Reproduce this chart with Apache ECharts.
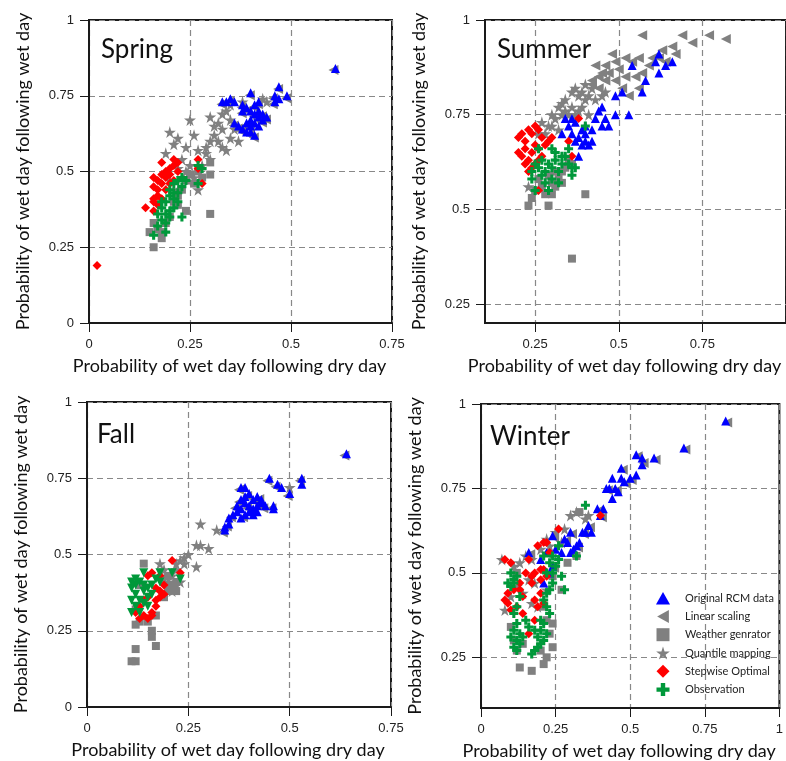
<!DOCTYPE html>
<html>
<head>
<meta charset="utf-8">
<script src="https://cdn.jsdelivr.net/npm/echarts@6/dist/echarts.min.js"></script>
<style>
  html, body { margin: 0; padding: 0; background: #fff; }
  #chart { width: 786px; height: 761px; }
</style>
</head>
<body>
<div id="chart"></div>
<script>
// series names (legend order)
const seriesNames = ['Original RCM data', 'Linear scaling', 'Weather genrator', 'Quantile mapping', 'Stepwise Optimal', 'Observation'];
const panelTitles = ['Spring', 'Summer', 'Fall', 'Winter'];
const xTicksShort = [0, 0.25, 0.5, 0.75];
const xTicksLong = [0.25, 0.5, 0.75, 1];
const xLabelsSummer = [0.25, 0.5, 0.75];
const xTicksFull = [0, 0.25, 0.5, 0.75, 1];
const yTicksFull = [0, 0.25, 0.5, 0.75, 1];
const yTicksUpper = [0.25, 0.5, 0.75, 1];

// ---- Spring ----
const springRcm = [[0.61,0.84],[0.47,0.78],[0.49,0.75],[0.46,0.75],[0.46,0.73],[0.47,0.74],[0.40,0.76],[0.33,0.73],[0.34,0.73],[0.35,0.74],[0.36,0.73],[0.38,0.72],[0.39,0.71],[0.40,0.70],[0.41,0.72],[0.42,0.73],[0.41,0.69],[0.42,0.68],[0.43,0.67],[0.40,0.67],[0.39,0.66],[0.38,0.64],[0.39,0.63],[0.40,0.63],[0.41,0.62],[0.42,0.65],[0.43,0.69],[0.37,0.65],[0.36,0.66],[0.41,0.66],[0.40,0.65],[0.38,0.70],[0.42,0.70],[0.44,0.68]];
const springLinear = [[0.605,0.835],[0.468,0.772],[0.488,0.742],[0.455,0.742],[0.455,0.722],[0.398,0.752],[0.328,0.722],[0.348,0.732],[0.378,0.712],[0.392,0.702],[0.408,0.712],[0.418,0.722],[0.408,0.682],[0.418,0.672],[0.428,0.662],[0.388,0.652],[0.378,0.632],[0.398,0.622],[0.408,0.612],[0.428,0.682],[0.368,0.642],[0.358,0.652],[0.398,0.642],[0.438,0.672],[0.378,0.692]];
const springWeather = [[0.16,0.25],[0.15,0.30],[0.18,0.28],[0.30,0.36],[0.16,0.33],[0.17,0.31],[0.24,0.37],[0.22,0.39],[0.23,0.44],[0.26,0.46],[0.28,0.48],[0.30,0.49],[0.30,0.53],[0.20,0.35],[0.19,0.33],[0.21,0.40],[0.22,0.42],[0.25,0.49],[0.27,0.50],[0.18,0.30],[0.24,0.47]];
const springQuantile = [[0.25,0.67],[0.20,0.63],[0.22,0.61],[0.21,0.59],[0.19,0.56],[0.24,0.58],[0.26,0.62],[0.27,0.57],[0.29,0.56],[0.30,0.60],[0.31,0.65],[0.30,0.68],[0.32,0.66],[0.33,0.69],[0.34,0.70],[0.35,0.67],[0.33,0.64],[0.32,0.60],[0.33,0.58],[0.34,0.57],[0.35,0.61],[0.36,0.64],[0.37,0.60],[0.30,0.54],[0.28,0.52],[0.25,0.52],[0.23,0.54],[0.22,0.51],[0.27,0.44],[0.26,0.48],[0.24,0.50],[0.43,0.74],[0.44,0.73],[0.38,0.73],[0.35,0.72],[0.31,0.62],[0.29,0.58],[0.22,0.44],[0.20,0.47],[0.23,0.48]];
const springStepwise = [[0.02,0.19],[0.14,0.38],[0.16,0.37],[0.16,0.40],[0.17,0.42],[0.16,0.45],[0.16,0.48],[0.17,0.47],[0.18,0.46],[0.18,0.49],[0.18,0.53],[0.19,0.50],[0.19,0.48],[0.20,0.51],[0.20,0.49],[0.21,0.52],[0.21,0.54],[0.22,0.53],[0.22,0.50],[0.17,0.44],[0.18,0.41],[0.19,0.44],[0.27,0.54],[0.27,0.51],[0.28,0.46],[0.16,0.41],[0.17,0.39],[0.20,0.46],[0.21,0.47]];
const springObs = [[0.16,0.29],[0.19,0.30],[0.17,0.32],[0.18,0.34],[0.19,0.36],[0.20,0.37],[0.18,0.38],[0.19,0.40],[0.20,0.42],[0.21,0.41],[0.22,0.43],[0.20,0.44],[0.21,0.46],[0.23,0.45],[0.22,0.47],[0.23,0.48],[0.24,0.47],[0.23,0.35],[0.19,0.33],[0.21,0.38],[0.22,0.40],[0.27,0.52],[0.28,0.51],[0.27,0.46],[0.20,0.35],[0.17,0.36],[0.21,0.43],[0.18,0.40]];

// ---- Summer ----
const summerRcm = [[0.62,0.91],[0.61,0.89],[0.64,0.88],[0.66,0.89],[0.62,0.86],[0.54,0.88],[0.58,0.84],[0.57,0.81],[0.51,0.81],[0.49,0.80],[0.49,0.75],[0.53,0.75],[0.45,0.77],[0.44,0.76],[0.46,0.74],[0.43,0.74],[0.45,0.72],[0.47,0.72],[0.40,0.72],[0.39,0.71],[0.40,0.70],[0.42,0.71],[0.38,0.69],[0.37,0.68],[0.39,0.67],[0.40,0.68],[0.42,0.68],[0.36,0.74],[0.37,0.73],[0.34,0.74],[0.35,0.72],[0.41,0.67],[0.38,0.64],[0.33,0.70],[0.36,0.70]];
const summerLinear = [[0.57,0.96],[0.69,0.96],[0.77,0.96],[0.82,0.95],[0.72,0.94],[0.66,0.93],[0.63,0.92],[0.62,0.90],[0.60,0.90],[0.56,0.90],[0.54,0.89],[0.52,0.90],[0.49,0.89],[0.48,0.91],[0.50,0.87],[0.47,0.86],[0.45,0.86],[0.44,0.85],[0.46,0.84],[0.49,0.84],[0.51,0.82],[0.53,0.80],[0.56,0.82],[0.57,0.86],[0.59,0.88],[0.64,0.89],[0.67,0.91],[0.42,0.84],[0.43,0.88],[0.46,0.88],[0.52,0.85],[0.55,0.85],[0.42,0.83],[0.44,0.82]];
const summerWeather = [[0.23,0.51],[0.29,0.51],[0.36,0.37],[0.40,0.54],[0.24,0.53],[0.25,0.55],[0.27,0.56],[0.28,0.54],[0.30,0.54],[0.30,0.57],[0.31,0.56],[0.32,0.58],[0.33,0.60],[0.34,0.61],[0.35,0.63],[0.36,0.62],[0.33,0.57],[0.26,0.58],[0.29,0.59],[0.31,0.60]];
const summerQuantile = [[0.27,0.73],[0.29,0.72],[0.30,0.75],[0.32,0.77],[0.33,0.78],[0.34,0.79],[0.36,0.81],[0.37,0.82],[0.38,0.80],[0.40,0.79],[0.39,0.77],[0.41,0.80],[0.42,0.82],[0.40,0.83],[0.36,0.77],[0.34,0.76],[0.31,0.74],[0.28,0.70],[0.23,0.56],[0.35,0.75],[0.38,0.76],[0.39,0.81],[0.43,0.79],[0.45,0.80],[0.46,0.81],[0.41,0.75],[0.37,0.75],[0.33,0.75],[0.30,0.72],[0.32,0.71],[0.26,0.70]];
const summerStepwise = [[0.20,0.69],[0.21,0.70],[0.22,0.68],[0.23,0.71],[0.24,0.70],[0.25,0.72],[0.26,0.71],[0.27,0.69],[0.25,0.67],[0.22,0.66],[0.21,0.64],[0.22,0.62],[0.23,0.63],[0.24,0.65],[0.26,0.66],[0.27,0.64],[0.29,0.68],[0.30,0.69],[0.28,0.67],[0.25,0.62],[0.24,0.61],[0.35,0.68],[0.38,0.74],[0.36,0.64],[0.26,0.55],[0.23,0.60],[0.26,0.63],[0.20,0.65]];
const summerObs = [[0.25,0.55],[0.24,0.60],[0.25,0.62],[0.26,0.61],[0.27,0.59],[0.28,0.60],[0.29,0.62],[0.30,0.61],[0.31,0.63],[0.32,0.60],[0.33,0.62],[0.34,0.64],[0.35,0.62],[0.36,0.61],[0.37,0.61],[0.35,0.66],[0.40,0.72],[0.26,0.66],[0.28,0.57],[0.30,0.58],[0.27,0.63],[0.31,0.65],[0.33,0.64],[0.29,0.55],[0.32,0.57],[0.24,0.58],[0.30,0.66],[0.36,0.59]];

// ---- Fall ----
const fallRcm = [[0.64,0.83],[0.53,0.75],[0.53,0.73],[0.45,0.75],[0.47,0.73],[0.48,0.72],[0.50,0.70],[0.46,0.66],[0.46,0.65],[0.38,0.72],[0.39,0.72],[0.38,0.68],[0.39,0.69],[0.40,0.70],[0.41,0.68],[0.42,0.69],[0.43,0.68],[0.43,0.67],[0.42,0.66],[0.41,0.65],[0.40,0.64],[0.39,0.63],[0.38,0.65],[0.37,0.66],[0.37,0.64],[0.36,0.63],[0.35,0.62],[0.35,0.60],[0.34,0.59],[0.34,0.58],[0.38,0.62],[0.40,0.66],[0.39,0.67],[0.41,0.63],[0.42,0.64],[0.44,0.66]];
const fallLinear = [[0.635,0.825],[0.525,0.742],[0.445,0.742],[0.465,0.722],[0.495,0.692],[0.455,0.652],[0.375,0.712],[0.375,0.672],[0.395,0.692],[0.415,0.672],[0.425,0.662],[0.405,0.632],[0.385,0.622],[0.365,0.652],[0.355,0.622],[0.345,0.592],[0.335,0.572],[0.395,0.652],[0.425,0.682],[0.435,0.652]];
const fallWeather = [[0.11,0.15],[0.12,0.15],[0.12,0.19],[0.17,0.20],[0.16,0.23],[0.16,0.25],[0.12,0.27],[0.13,0.28],[0.15,0.28],[0.14,0.47],[0.13,0.40],[0.12,0.32],[0.17,0.30],[0.19,0.36],[0.20,0.38],[0.21,0.40],[0.22,0.38],[0.20,0.43],[0.22,0.41]];
const fallQuantile = [[0.28,0.60],[0.32,0.58],[0.27,0.53],[0.28,0.53],[0.30,0.52],[0.27,0.46],[0.25,0.50],[0.24,0.49],[0.23,0.48],[0.22,0.47],[0.22,0.45],[0.21,0.43],[0.20,0.41],[0.22,0.40],[0.21,0.38],[0.19,0.42],[0.18,0.47],[0.24,0.47],[0.50,0.72],[0.20,0.39],[0.23,0.41],[0.19,0.45]];
const fallStepwise = [[0.21,0.48],[0.23,0.44],[0.16,0.44],[0.15,0.43],[0.18,0.43],[0.19,0.40],[0.18,0.38],[0.19,0.37],[0.18,0.36],[0.17,0.35],[0.17,0.33],[0.16,0.31],[0.15,0.29],[0.16,0.30],[0.13,0.33],[0.12,0.31],[0.14,0.35],[0.15,0.36],[0.17,0.39],[0.14,0.30],[0.13,0.29]];
const fallObs = [[0.11,0.41],[0.11,0.39],[0.12,0.40],[0.13,0.41],[0.14,0.44],[0.12,0.37],[0.11,0.35],[0.13,0.35],[0.14,0.38],[0.15,0.39],[0.16,0.40],[0.17,0.42],[0.18,0.41],[0.15,0.36],[0.14,0.34],[0.12,0.33],[0.11,0.31],[0.13,0.31],[0.15,0.33],[0.16,0.37],[0.21,0.44],[0.23,0.42],[0.18,0.44],[0.12,0.42],[0.14,0.40]];

// ---- Winter ----
const winterRcm = [[0.82,0.95],[0.68,0.87],[0.58,0.84],[0.52,0.85],[0.54,0.84],[0.54,0.82],[0.47,0.81],[0.52,0.79],[0.50,0.78],[0.48,0.77],[0.47,0.78],[0.44,0.78],[0.45,0.75],[0.42,0.75],[0.46,0.74],[0.44,0.72],[0.39,0.69],[0.41,0.69],[0.40,0.67],[0.36,0.64],[0.35,0.62],[0.37,0.62],[0.34,0.62],[0.30,0.62],[0.32,0.58],[0.33,0.59],[0.29,0.59],[0.28,0.60],[0.31,0.57],[0.30,0.56],[0.27,0.56],[0.24,0.61],[0.25,0.57],[0.22,0.56],[0.20,0.54],[0.16,0.56],[0.24,0.52],[0.21,0.47],[0.23,0.50],[0.43,0.75]];
const winterLinear = [[0.825,0.945],[0.685,0.865],[0.585,0.835],[0.525,0.845],[0.545,0.825],[0.475,0.805],[0.505,0.775],[0.485,0.765],[0.455,0.745],[0.425,0.745],[0.395,0.685],[0.405,0.665],[0.365,0.635],[0.345,0.615],[0.305,0.615],[0.325,0.575],[0.285,0.595],[0.245,0.605],[0.225,0.555],[0.165,0.555],[0.245,0.515]];
const winterWeather = [[0.13,0.22],[0.17,0.21],[0.21,0.23],[0.22,0.25],[0.24,0.28],[0.23,0.32],[0.24,0.35],[0.22,0.36],[0.12,0.27],[0.11,0.30],[0.10,0.34],[0.27,0.45],[0.29,0.53],[0.32,0.55],[0.33,0.68],[0.24,0.49],[0.12,0.50],[0.21,0.40],[0.20,0.27],[0.14,0.29]];
const winterQuantile = [[0.07,0.54],[0.08,0.39],[0.13,0.53],[0.15,0.55],[0.17,0.54],[0.20,0.57],[0.22,0.60],[0.25,0.62],[0.28,0.63],[0.30,0.67],[0.32,0.68],[0.36,0.67],[0.35,0.66],[0.10,0.43],[0.12,0.46],[0.14,0.44],[0.16,0.48],[0.18,0.47],[0.19,0.40],[0.17,0.41],[0.22,0.45],[0.11,0.52],[0.27,0.59],[0.23,0.58]];
const winterStepwise = [[0.08,0.54],[0.10,0.53],[0.16,0.54],[0.19,0.58],[0.21,0.59],[0.22,0.59],[0.26,0.63],[0.40,0.67],[0.23,0.56],[0.20,0.51],[0.18,0.50],[0.17,0.49],[0.15,0.50],[0.21,0.51],[0.22,0.49],[0.20,0.48],[0.13,0.47],[0.11,0.45],[0.13,0.45],[0.14,0.43],[0.08,0.42],[0.09,0.41],[0.10,0.39],[0.17,0.47],[0.18,0.42],[0.19,0.40],[0.14,0.38],[0.12,0.40],[0.16,0.32],[0.18,0.36],[0.20,0.44],[0.21,0.41],[0.09,0.44]];
const winterObs = [[0.35,0.70],[0.32,0.55],[0.28,0.45],[0.27,0.49],[0.25,0.52],[0.26,0.54],[0.24,0.55],[0.23,0.53],[0.22,0.50],[0.24,0.47],[0.23,0.45],[0.22,0.44],[0.21,0.42],[0.22,0.40],[0.23,0.38],[0.21,0.35],[0.20,0.33],[0.22,0.32],[0.21,0.30],[0.20,0.29],[0.19,0.28],[0.18,0.27],[0.17,0.26],[0.19,0.31],[0.18,0.33],[0.16,0.34],[0.13,0.32],[0.12,0.30],[0.11,0.28],[0.12,0.27],[0.13,0.29],[0.10,0.31],[0.11,0.33],[0.12,0.35],[0.11,0.38],[0.12,0.40],[0.10,0.46],[0.09,0.47],[0.11,0.47],[0.12,0.49],[0.10,0.50],[0.11,0.48],[0.13,0.43],[0.15,0.36],[0.14,0.31],[0.20,0.36],[0.24,0.50],[0.26,0.58],[0.21,0.55]];

// marker shapes
const TRI_UP = 'path://M50,0L100,90L0,90Z';
const TRI_LEFT = 'path://M0,50L90,0L90,100Z';
const TRI_DOWN = 'path://M0,0L100,0L50,90Z';
const SQUARE = 'path://M0,0H100V100H0Z';
const DIAMOND = 'path://M50,0L100,50L50,100L0,50Z';
const STAR = 'path://M50,0L61,35L98,35L68,57L79,91L50,70L21,91L32,57L2,35L39,35Z';
const PLUS = 'path://M33,0H67V33H100V67H67V100H33V67H0V33H33Z';
const BLUE = '#0000ff', GRAY = '#808080', RED = '#ff0000', GREEN = '#00983a';

const nameFont = 'Lato, "Open Sans", sans-serif';
const tickFont = '"Liberation Sans", Arial, sans-serif';

// panel layout
const grids = [
  { left: 89, top: 20, width: 303, height: 303 },
  { left: 485, top: 20, width: 304, height: 303 },
  { left: 87, top: 402, width: 304, height: 305 },
  { left: 481, top: 404, width: 304, height: 304 }
].map(g => Object.assign(g, { show: true, borderColor: '#1a1a1a', borderWidth: 2, backgroundColor: '#fff' }));

function makeAxis(type, gi, min, max, ticks, labels, name) {
  const isX = type === 'x';
  return {
    type: 'value',
    gridIndex: gi,
    min: min,
    max: max,
    name: name,
    nameLocation: 'middle',
    nameGap: isX ? 34 : 57,
    nameTextStyle: {
      fontFamily: nameFont,
      fontSize: 18,
      color: '#111',
      padding: isX ? [0, 22, 0, 0] : 0
    },
    axisLine: { show: true, lineStyle: { color: '#1a1a1a', width: 2 } },
    axisTick: { show: true, inside: false, length: 9, customValues: ticks, lineStyle: { color: '#1a1a1a', width: 1 } },
    axisLabel: { customValues: labels, margin: 15, fontFamily: tickFont, fontSize: 13, color: '#222', showMaxLabel: true },
    splitLine: { show: true, lineStyle: { color: '#888', type: [6, 4], width: 1.2 } }
  };
}

const xName = 'Probability of wet day following dry day';
const yName = 'Probability of wet day following wet day';
const xAxes = [
  makeAxis('x', 0, 0, 0.75, xTicksShort, xTicksShort, xName),
  makeAxis('x', 1, 0.1, 1, xTicksLong, xLabelsSummer, xName),
  makeAxis('x', 2, 0, 0.75, xTicksShort, xTicksShort, xName),
  makeAxis('x', 3, 0, 1, xTicksFull, xTicksFull, xName)
];
const yAxes = [
  makeAxis('y', 0, 0, 1, yTicksFull, yTicksFull, yName),
  makeAxis('y', 1, 0.2, 1, yTicksUpper, yTicksUpper, yName),
  makeAxis('y', 2, 0, 1, yTicksFull, yTicksFull, yName),
  makeAxis('y', 3, 0.1, 1, yTicksUpper, yTicksUpper, yName)
];

function scatter(name, data, gi, symbol, color, size) {
  return {
    name: name,
    type: 'scatter',
    xAxisIndex: gi,
    yAxisIndex: gi,
    data: data,
    symbol: symbol,
    symbolSize: size,
    itemStyle: { color: color, opacity: 1 },
    emphasis: { disabled: true },
    animation: false
  };
}

const panelData = [
  [springRcm, springLinear, springWeather, springQuantile, springStepwise, springObs],
  [summerRcm, summerLinear, summerWeather, summerQuantile, summerStepwise, summerObs],
  [fallRcm, fallLinear, fallWeather, fallQuantile, fallStepwise, fallObs],
  [winterRcm, winterLinear, winterWeather, winterQuantile, winterStepwise, winterObs]
];

const series = [];
panelData.forEach((d, gi) => {
  // gray methods first, then RCM, stepwise and observation on top
  series.push(scatter(seriesNames[1], d[1], gi, TRI_LEFT, GRAY, 10));
  series.push(scatter(seriesNames[2], d[2], gi, SQUARE, GRAY, 8));
  series.push(scatter(seriesNames[3], d[3], gi, STAR, GRAY, 12));
  series.push(scatter(seriesNames[0], d[0], gi, TRI_UP, BLUE, 9));
  series.push(scatter(seriesNames[4], d[4], gi, DIAMOND, RED, 9));
  // Fall panel draws the observations as down triangles
  series.push(scatter(seriesNames[5], d[5], gi, gi === 2 ? TRI_DOWN : PLUS, GREEN, 9));
});

const titlePos = [[101, 37], [497, 37], [97, 422], [490, 424]];

const chart = echarts.init(document.getElementById('chart'));
chart.setOption({
  animation: false,
  backgroundColor: '#fff',
  title: panelTitles.map((t, i) => ({
    text: t,
    left: titlePos[i][0],
    top: titlePos[i][1],
    padding: 0,
    textStyle: { fontFamily: nameFont, fontSize: 26, fontWeight: 'normal', color: '#111' }
  })),
  legend: {
    data: [
      { name: seriesNames[0], icon: TRI_UP },
      { name: seriesNames[1], icon: TRI_LEFT },
      { name: seriesNames[2], icon: SQUARE },
      { name: seriesNames[3], icon: STAR },
      { name: seriesNames[4], icon: DIAMOND },
      { name: seriesNames[5], icon: PLUS }
    ],
    orient: 'vertical',
    left: 656,
    top: 592,
    itemWidth: 14,
    itemHeight: 13,
    itemGap: 5.3,
    padding: 0,
    textStyle: { fontFamily: nameFont, fontSize: 11, color: '#222', padding: [0, 0, 0, 10] }
  },
  grid: grids,
  xAxis: xAxes,
  yAxis: yAxes,
  series: series
});
</script>
</body>
</html>
